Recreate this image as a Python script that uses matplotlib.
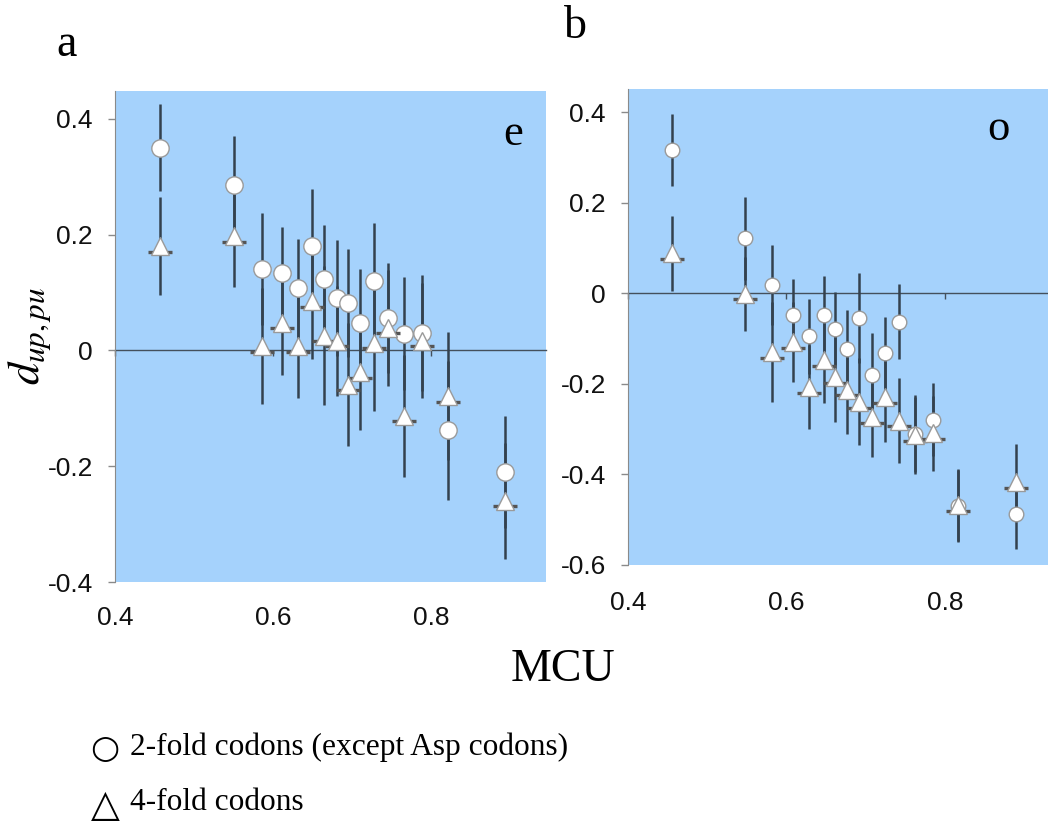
import matplotlib
matplotlib.use("Agg")
import matplotlib.pyplot as plt
import matplotlib.transforms as mtransforms
from matplotlib.ticker import FuncFormatter

plt.rcParams['axes.unicode_minus'] = False
plt.rcParams['mathtext.fontset'] = 'stix'

# panel e
mcu_e = [0.457, 0.551, 0.586, 0.611, 0.632, 0.650, 0.665, 0.681,
         0.695, 0.711, 0.728, 0.746, 0.766, 0.789, 0.822, 0.894]
two_e = [0.350, 0.285, 0.140, 0.133, 0.108, 0.180, 0.124, 0.091,
         0.082, 0.047, 0.120, 0.056, 0.029, 0.030, -0.138, -0.210]
two_e_err = [0.075, 0.086, 0.097, 0.080, 0.085, 0.098, 0.092, 0.100,
             0.093, 0.093, 0.100, 0.095, 0.097, 0.100, 0.120, 0.097]
four_e = [0.180, 0.197, 0.007, 0.048, 0.007, 0.085, 0.025, 0.017,
          -0.059, -0.038, 0.013, 0.039, -0.113, 0.017, -0.079, -0.260]
four_e_err = [0.085, 0.088, 0.100, 0.090, 0.090, 0.100, 0.120, 0.095,
              0.106, 0.100, 0.118, 0.100, 0.105, 0.100, 0.110, 0.100]

# panel o
mcu_o = [0.455, 0.548, 0.582, 0.608, 0.629, 0.647, 0.661, 0.676,
         0.692, 0.708, 0.724, 0.742, 0.762, 0.785, 0.817, 0.889]
two_o = [0.316, 0.121, 0.018, -0.049, -0.095, -0.049, -0.078, -0.122,
         -0.054, -0.181, -0.133, -0.063, -0.310, -0.279, -0.470, -0.487]
two_o_err = [0.080, 0.092, 0.088, 0.081, 0.083, 0.087, 0.081, 0.086,
             0.099, 0.094, 0.081, 0.083, 0.085, 0.080, 0.080, 0.078]
four_o = [0.088, -0.001, -0.130, -0.108, -0.207, -0.148, -0.185, -0.213,
          -0.240, -0.274, -0.229, -0.281, -0.314, -0.309, -0.468, -0.417]
four_o_err = [0.083, 0.082, 0.110, 0.088, 0.092, 0.095, 0.100, 0.097,
              0.096, 0.087, 0.100, 0.094, 0.085, 0.083, 0.080, 0.084]

yticks_e = [-0.4, -0.2, 0, 0.2, 0.4]
yticks_o = [-0.6, -0.4, -0.2, 0, 0.2, 0.4]
xticks = [0.4, 0.6, 0.8]

BG = '#a5d2fc'
BAR = '#33414e'
SERIF = ['Liberation Serif', 'DejaVu Serif']

W, H = 1048, 832
fig = plt.figure(figsize=(W / 100, H / 100), dpi=100)

def px_axes(x0, y0, x1, y1):
    return fig.add_axes([x0 / W, 1 - y1 / H, (x1 - x0) / W, (y1 - y0) / H])

ax1 = px_axes(115, 91, 546, 582)
ax2 = px_axes(628, 89, 1048, 565)

fmt = FuncFormatter(lambda v, p: f'{round(v, 2):g}')


def panel(ax, x, c, cerr, t, terr, ylim, xlim, yticks, tag, tagpos, csize, xpad):
    ax.set_facecolor(BG)
    ax.errorbar(x, c, yerr=cerr, fmt='none', ecolor=BAR, elinewidth=1.8, zorder=2)
    ax.errorbar(x, t, yerr=terr, fmt='none', ecolor=BAR, elinewidth=1.8, zorder=2)
    ax.plot(x, c, 'o', ms=csize, mfc='white', mec='#9a9a9a', mew=1.0, zorder=3)
    # dark base line under each triangle
    base = mtransforms.offset_copy(ax.transData, fig=fig, y=-4.0, units='points')
    ax.plot(x, t, '_', ms=17, mec='#555555', mew=2.4, zorder=4, transform=base)
    ax.plot(x, t, '^', ms=13, mfc='white', mec='#9a9a9a', mew=1.0, zorder=5)
    ax.set_xlim(*xlim)
    ax.set_ylim(*ylim)
    ax.set_yticks(yticks)
    ax.set_xticks(xticks)
    ax.xaxis.set_major_formatter(fmt)
    ax.yaxis.set_major_formatter(fmt)
    for s in ['top', 'right', 'bottom']:
        ax.spines[s].set_visible(False)
    ax.spines['left'].set_color('#8a8a8a')
    ax.tick_params(axis='y', length=5, width=1, color='#8a8a8a', pad=11,
                   labelsize=19, labelfontfamily='Liberation Sans', labelcolor='#111111')
    ax.tick_params(axis='x', length=0, pad=xpad, labelsize=19,
                   labelfontfamily='Liberation Sans', labelcolor='#111111')
    # zero line with its own ticks
    frac = (0 - ylim[0]) / (ylim[1] - ylim[0])
    sec = ax.secondary_xaxis(frac)
    sec.set_alignment('bottom')
    sec.set_xticks(xticks)
    sec.tick_params(length=4, width=1, color='#44505c', direction='out',
                    labelbottom=False, labeltop=False)
    sec.spines['bottom'].set_color('#44505c')
    sec.spines['bottom'].set_linewidth(1.0)
    ax.text(tagpos[0], tagpos[1], tag, transform=ax.transAxes, fontsize=32,
            family=SERIF, ha='center', va='center')


panel(ax1, mcu_e, two_e, two_e_err, four_e, four_e_err,
      (-0.4, 0.448), (0.4, 0.946), yticks_e, 'e', (0.923, 0.912), 12.5, 17)
panel(ax2, mcu_o, two_o, two_o_err, four_o, four_o_err,
      (-0.6, 0.451), (0.4, 0.930), yticks_o, 'o', (0.883, 0.915), 10.5, 19)

fig.text(67 / W, 1 - 45 / H, 'a', fontsize=33, family=SERIF, ha='center', va='center')
fig.text(575 / W, 1 - 27 / H, 'b', fontsize=33, family=SERIF, ha='center', va='center')
fig.text(30 / W, 1 - 336 / H, r'$d_{up,pu}$', fontsize=32, rotation=90,
         ha='center', va='center')
fig.text(563 / W, 1 - 670 / H, 'MCU', fontsize=33, family=SERIF, ha='center', va='center')

# legend lines
fig.text(105 / W, 1 - 749 / H, '○', fontsize=24, family='DejaVu Sans',
         ha='center', va='center')
fig.text(130 / W, 1 - 747 / H, '2-fold codons (except Asp codons)', fontsize=22.6,
         family=SERIF, ha='left', va='center')
fig.text(105 / W, 1 - 807 / H, '△', fontsize=27, family=SERIF,
         ha='center', va='center')
fig.text(130 / W, 1 - 803 / H, '4-fold codons', fontsize=22.6,
         family=SERIF, ha='left', va='center')

fig.savefig('out.png', dpi=100)
